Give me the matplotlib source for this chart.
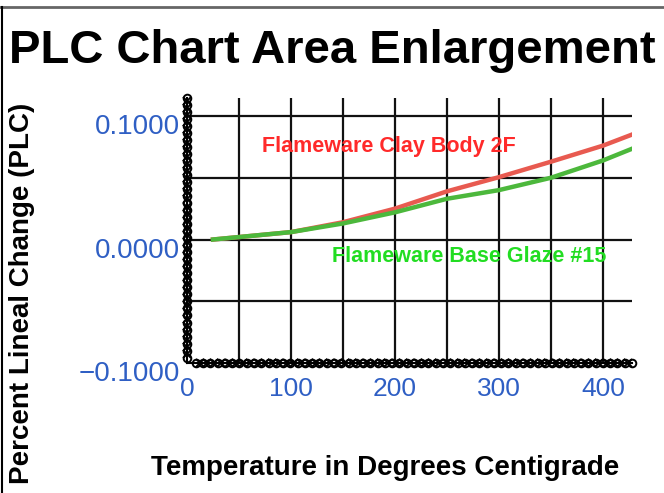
import numpy as np
import matplotlib
matplotlib.use("Agg")
from matplotlib import pyplot as plt
from matplotlib.transforms import ScaledTranslation
from matplotlib.lines import Line2D

# data
temp = [25, 50, 100, 150, 200, 250, 300, 350, 400, 428]
clay_body = [0.0, 0.002, 0.006, 0.014, 0.025, 0.039, 0.0505, 0.063, 0.076, 0.085]
base_glaze = [0.0, 0.002, 0.006, 0.013, 0.022, 0.033, 0.040, 0.050, 0.064, 0.0735]
x_ticks = [0, 100, 200, 300, 400]
y_ticks = [-0.1, 0.0, 0.1]
y_tick_labels = ["\u22120.1000", "0.0000", "0.1000"]

BLUE = "#2f5fc4"
BOLD = ["Liberation Sans", "DejaVu Sans"]

fig = plt.figure(figsize=(6.64, 4.93), dpi=100)
ax = fig.add_axes([0.2816, 0.2637, 0.6702, 0.5385])

# grid
for gx in np.arange(50, 428, 50):
    ax.axvline(gx, color="#111111", lw=1.6, zorder=1)
for gy in [-0.05, 0.0, 0.05, 0.1]:
    ax.axhline(gy, color="#111111", lw=1.6, zorder=1)

ax.plot(temp, clay_body, color="#e85a50", lw=3.2, zorder=3)
ax.plot(temp, base_glaze, color="#4cb83c", lw=3.2, zorder=4)

ax.text(72, 0.0756, "Flameware Clay Body 2F", color="#ff2a2a", fontsize=15.5,
        fontweight="bold", family=BOLD, va="center", ha="left", zorder=5)
ax.text(139, -0.0135, "Flameware Base Glaze #15", color="#22dd22", fontsize=15.5,
        fontweight="bold", family=BOLD, va="center", ha="left", zorder=5)

ax.set_xlim(0, 428)
ax.set_ylim(-0.1, 0.115)
ax.set_xticks(x_ticks)
ax.set_yticks(y_ticks)
ax.set_yticklabels(y_tick_labels)
ax.tick_params(length=0, labelcolor=BLUE)
ax.tick_params(axis="x", pad=10, labelsize=19)
ax.tick_params(axis="y", pad=5, labelsize=20)
for lab in ax.get_xticklabels() + ax.get_yticklabels():
    lab.set_family(BOLD)
for lab in ax.get_yticklabels():
    lab.set_transform(lab.get_transform() + ScaledTranslation(0, -0.08, fig.dpi_scale_trans))
for s in ax.spines.values():
    s.set_visible(False)

# chain-like axis lines
ax.plot([0, 0], [0, 1], transform=ax.transAxes, color="black", lw=1.5, clip_on=False, zorder=6)
ax.plot([0, 1], [0, 0], transform=ax.transAxes, color="black", lw=1.5, clip_on=False, zorder=6)
ny = 38
vy = np.linspace(0.02, 1, ny)
ax.plot(np.zeros(ny), vy, "o", ms=5.5, mfc="none", mec="black", mew=1.4,
        transform=ax.transAxes, clip_on=False, zorder=7)
ax.plot(np.zeros(ny - 1), (vy[:-1] + vy[1:]) / 2, "x", ms=5.5, color="black", mew=1.4,
        transform=ax.transAxes, clip_on=False, zorder=7)
nx = 61
hx = np.linspace(0.02, 1, nx)
ax.plot(hx, np.zeros(nx), "o", ms=5.5, mfc="none", mec="black", mew=1.4,
        transform=ax.transAxes, clip_on=False, zorder=7)
ax.plot((hx[:-1] + hx[1:]) / 2, np.zeros(nx - 1), "x", ms=5.5, color="black", mew=1.4,
        transform=ax.transAxes, clip_on=False, zorder=7)

fig.text(0.5, 1 - 63 / 493, "PLC Chart Area Enlargement", fontsize=34, fontweight="bold",
         family=BOLD, ha="center", va="baseline")
fig.text(385 / 664, 1 - 468 / 493, "Temperature in Degrees Centigrade", fontsize=20,
         fontweight="bold", family=BOLD, ha="center", va="center")
fig.text(22 / 664, 1 - 293 / 493, "Percent Lineal Change (PLC)", fontsize=20,
         fontweight="bold", family=BOLD, ha="center", va="center", rotation=90)

# frame lines of the original picture
fig.add_artist(Line2D([0, 1], [1 - 7 / 493] * 2, color="#666666", lw=2))
fig.add_artist(Line2D([2 / 664] * 2, [0, 1 - 7 / 493], color="black", lw=1.5))

fig.savefig("out.png", dpi=100)
